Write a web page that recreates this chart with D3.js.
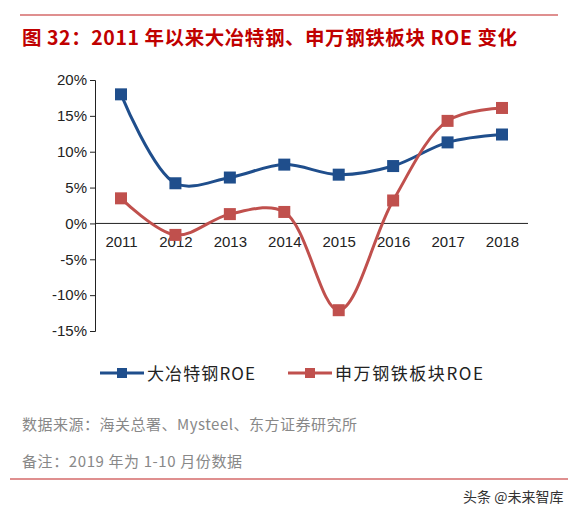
<!DOCTYPE html>
<html><head><meta charset="utf-8">
<script src="https://cdn.jsdelivr.net/npm/d3@7"></script>
<style>body{margin:0;background:#fff;font-family:"Noto Sans CJK SC","Liberation Sans",sans-serif}</style>
</head><body>
<script>
const years = ["2011","2012","2013","2014","2015","2016","2017","2018"];
const daye = [18.0, 5.6, 6.4, 8.2, 6.8, 8.0, 11.3, 12.4];
const sw = [3.5, -1.6, 1.3, 1.6, -12.1, 3.2, 14.3, 16.1];
const yTicks = [20, 15, 10, 5, 0, -5, -10, -15];

const svg = d3.select("body").append("svg").attr("width", 575).attr("height", 515);

svg.append("line").attr("x1", 20).attr("x2", 558).attr("y1", 15).attr("y2", 15).attr("stroke", "#d46a6a").attr("stroke-width", 1.5);
svg.append("line").attr("x1", 10).attr("x2", 568).attr("y1", 479).attr("y2", 479).attr("stroke", "#d46a6a").attr("stroke-width", 1.5);

svg.append("text").attr("x", 22).attr("y", 45).attr("fill", "#c00000").attr("font-size", 19.5).attr("font-weight", "bold")
  .attr("textLength", 495).text("图 32：2011 年以来大冶特钢、申万钢铁板块 ROE 变化");

const x = d3.scalePoint().domain(years).range([121, 502]);
const y = d3.scaleLinear().domain([-15, 20]).range([331, 80]);

const ya = svg.append("g").attr("transform", "translate(95,0)")
  .call(d3.axisLeft(y).tickValues(yTicks).tickFormat(d => d + "%").tickSize(5));
ya.selectAll("text").attr("font-size", 15).attr("fill", "#222").attr("font-family", "Liberation Sans, Arial");
ya.select(".domain").attr("stroke", "#222");
ya.selectAll(".tick line").attr("stroke", "#222");

const xa = svg.append("g").attr("transform", `translate(0,${y(0)})`)
  .call(d3.axisBottom(x).tickSize(0).tickPadding(13));
xa.select(".domain").attr("d", `M95,0H528`).attr("stroke", "#222");
xa.selectAll("text").attr("font-size", 15).attr("fill", "#222").attr("font-family", "Liberation Sans, Arial");

const line = d3.line().x((d, i) => x(years[i])).y(d => y(d)).curve(d3.curveCatmullRom.alpha(0.5));
const series = [{v: daye, c: "#1f4e8c"}, {v: sw, c: "#c0504d"}];
series.forEach(s => {
  svg.append("path").attr("d", line(s.v)).attr("fill", "none").attr("stroke", s.c).attr("stroke-width", 3);
  svg.selectAll(null).data(s.v).enter().append("rect")
    .attr("x", (d, i) => x(years[i]) - 6).attr("y", d => y(d) - 6)
    .attr("width", 12).attr("height", 12).attr("fill", s.c);
});

const legend = [{t: "大冶特钢ROE", c: "#1f4e8c", x: 100, w: 108}, {t: "申万钢铁板块ROE", c: "#c0504d", x: 288, w: 148}];
legend.forEach(l => {
  svg.append("line").attr("x1", l.x).attr("x2", l.x + 44).attr("y1", 373).attr("y2", 373).attr("stroke", l.c).attr("stroke-width", 3);
  svg.append("rect").attr("x", l.x + 17).attr("y", 368).attr("width", 10).attr("height", 10).attr("fill", l.c);
  svg.append("text").attr("x", l.x + 47).attr("y", 380).attr("font-size", 17).attr("fill", "#222").attr("textLength", l.w).text(l.t);
});

svg.append("text").attr("x", 22).attr("y", 430).attr("font-size", 15).attr("fill", "#888").attr("textLength", 335).text("数据来源：海关总署、Mysteel、东方证券研究所");
svg.append("text").attr("x", 22).attr("y", 467).attr("font-size", 15).attr("fill", "#888").attr("textLength", 220).text("备注：2019 年为 1-10 月份数据");
svg.append("text").attr("x", 463).attr("y", 502).attr("font-size", 14).attr("fill", "#333").text("头条 @未来智库");
</script>
</body></html>
